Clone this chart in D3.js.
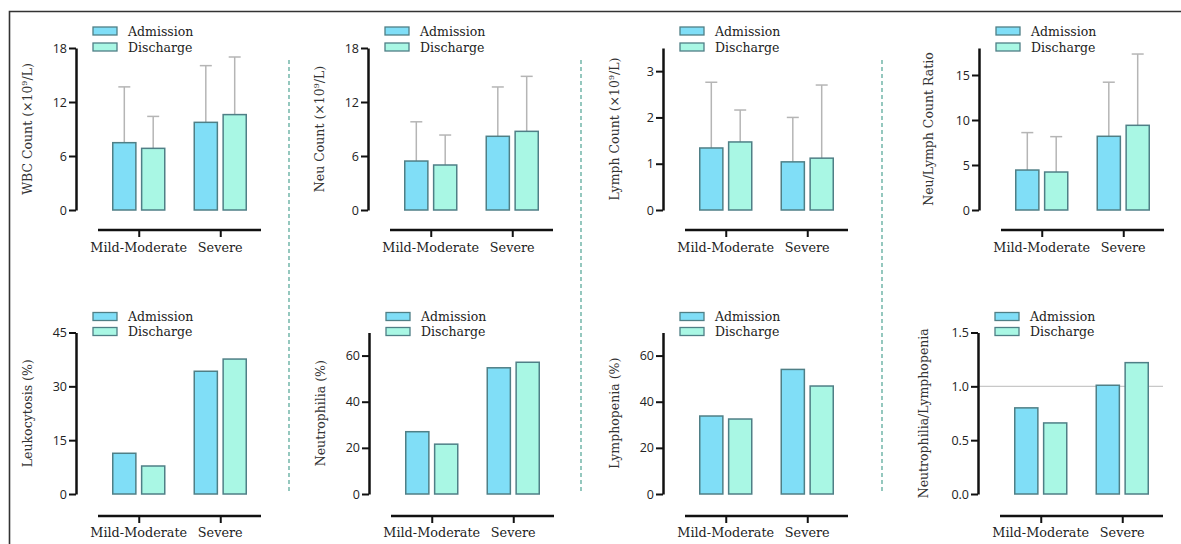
<!DOCTYPE html>
<html><head><meta charset="utf-8">
<script src="https://cdn.jsdelivr.net/npm/d3@7"></script>
<style>html,body{margin:0;padding:0;background:#fff;}svg{display:block;}</style>
</head><body>
<svg id="c" width="1181" height="544"></svg>
<script>
// ---- data ----
const categories = ["Mild-Moderate", "Severe"];
const seriesNames = ["Admission", "Discharge"];

const wbcAdm = [7.48, 9.74], wbcDis = [6.85, 10.6];
const wbcAdmSD = [6.2, 6.3], wbcDisSD = [3.55, 6.4];
const neuAdm = [5.44, 8.19], neuDis = [5.0, 8.74];
const neuAdmSD = [4.36, 5.48], neuDisSD = [3.33, 6.11];
const lymAdm = [1.34, 1.04], lymDis = [1.47, 1.12];
const lymAdmSD = [1.42, 0.96], lymDisSD = [0.69, 1.58];
const nlrAdm = [4.44, 8.19], nlrDis = [4.22, 9.41];
const nlrAdmSD = [4.16, 6.01], nlrDisSD = [3.93, 7.92];

const leukoAdm = [11.35, 34.2], leukoDis = [7.8, 37.6];
const neutroAdm = [27.0, 54.7], neutroDis = [21.6, 57.1];
const lymphoAdm = [33.8, 54.0], lymphoDis = [32.5, 46.8];
const ratioAdm = [0.80, 1.01], ratioDis = [0.66, 1.22];

const ticksWbc = [0, 6, 12, 18], ticksNeu = [0, 6, 12, 18], ticksLym = [0, 1, 2, 3], ticksNlr = [0, 5, 10, 15];
const ticksLeuko = [0, 15, 30, 45], ticksNeutro = [0, 20, 40, 60], ticksLympho = [0, 20, 40, 60], ticksRatio = [0, 0.5, 1.0, 1.5];

// ---- panel definitions ----
const panels = [
  {row:0, ax:76,  tOff:44, title:["WBC Count (×10","9","/L)"], max:18, ticks:ticksWbc, fmt:d3.format("d"), adm:wbcAdm, dis:wbcDis, admSD:wbcAdmSD, disSD:wbcDisSD},
  {row:0, ax:368, tOff:44, title:["Neu Count (×10","9","/L)"], max:18, ticks:ticksNeu, fmt:d3.format("d"), adm:neuAdm, dis:neuDis, admSD:neuAdmSD, disSD:neuDisSD},
  {row:0, ax:663, tOff:44, title:["Lymph Count (×10","9","/L)"], max:3.5, ticks:ticksLym, fmt:d3.format("d"), adm:lymAdm, dis:lymDis, admSD:lymAdmSD, disSD:lymDisSD},
  {row:0, ax:979, tOff:46, title:["Neu/Lymph Count Ratio"], max:18, ticks:ticksNlr, fmt:d3.format("d"), adm:nlrAdm, dis:nlrDis, admSD:nlrAdmSD, disSD:nlrDisSD},
  {row:1, ax:76,  tOff:44, title:["Leukocytosis (%)"], max:45, ticks:ticksLeuko, fmt:d3.format("d"), adm:leukoAdm, dis:leukoDis},
  {row:1, ax:369, tOff:44, title:["Neutrophilia (%)"], max:70, ticks:ticksNeutro, fmt:d3.format("d"), adm:neutroAdm, dis:neutroDis},
  {row:1, ax:663, tOff:44, title:["Lymphopenia (%)"], max:70, ticks:ticksLympho, fmt:d3.format("d"), adm:lymphoAdm, dis:lymphoDis},
  {row:1, ax:978, tOff:50, title:["Neutrophilia/Lymphopenia"], max:1.5, ticks:ticksRatio, fmt:d3.format(".1f"), adm:ratioAdm, dis:ratioDis, refLine:1.0}
];

const rows = [
  {y0:210, y1:48, xAxisY:230, catY:252, legY:[31,47]},
  {y0:494, y1:332.5, xAxisY:516, catY:537, legY:[316.5,331.5]}
];

const colAdm = "#80def7", colDis = "#a9f7e4", strokeBar = "#4f7f86";
const serif = "'DejaVu Serif', serif";
const sans = "'Open Sans', sans-serif";

const svg = d3.select("#c");

// frame
svg.append("path").attr("d","M9.5,544 L9.5,11.5 L1181,11.5").attr("fill","none").attr("stroke","#333").attr("stroke-width",1.6);

// dashed separators
[289, 581, 882].forEach(x => {
  svg.append("line").attr("x1",x).attr("x2",x).attr("y1",60).attr("y2",493)
    .attr("stroke","#4fa393").attr("stroke-width",1.2).attr("stroke-dasharray","4,3");
});

panels.forEach(p => {
  const r = rows[p.row];
  const g = svg.append("g");
  const y = d3.scaleLinear().domain([0, p.max]).range([r.y0, r.y1]);
  const x = d3.scalePoint().domain(categories).range([p.ax + 22, p.ax + 185]).padding(0.5);
  const xs = d3.scaleBand().domain(seriesNames).range([-26, 26]).paddingInner(0.2);

  // reference line
  if (p.refLine !== undefined) {
    g.append("line").attr("x1", p.ax+1).attr("x2", p.ax+185)
      .attr("y1", y(p.refLine)).attr("y2", y(p.refLine))
      .attr("stroke","#c8c8c8").attr("stroke-width",1.2);
  }

  const series = [
    {name:"Admission", vals:p.adm, sd:p.admSD, fill:colAdm},
    {name:"Discharge", vals:p.dis, sd:p.disSD, fill:colDis}
  ];

  series.forEach(s => {
    // error bars (upper only)
    if (s.sd) {
      categories.forEach((c,i) => {
        const cx = x(c) + xs(s.name) + xs.bandwidth()/2;
        g.append("line").attr("x1",cx).attr("x2",cx).attr("y1",y(s.vals[i])).attr("y2",y(s.vals[i]+s.sd[i]))
          .attr("stroke","#b5b5b5").attr("stroke-width",1.5);
        g.append("line").attr("x1",cx-6).attr("x2",cx+6).attr("y1",y(s.vals[i]+s.sd[i])).attr("y2",y(s.vals[i]+s.sd[i]))
          .attr("stroke","#b5b5b5").attr("stroke-width",1.5);
      });
    }
    g.selectAll(null).data(categories).enter().append("rect")
      .attr("x", (c) => x(c) + xs(s.name))
      .attr("width", xs.bandwidth())
      .attr("y", (c,i) => y(s.vals[i]))
      .attr("height", (c,i) => y(0) - y(s.vals[i]))
      .attr("fill", s.fill).attr("stroke", strokeBar).attr("stroke-width", 1.5);
  });

  // y axis
  const yAxis = d3.axisLeft(y).tickValues(p.ticks).tickFormat(p.fmt).tickSize(7).tickSizeOuter(0).tickPadding(2);
  const ya = g.append("g").attr("transform",`translate(${p.ax},0)`).call(yAxis);
  ya.select(".domain").attr("stroke","#111").attr("stroke-width",2.5);
  ya.selectAll(".tick line").attr("stroke","#111").attr("stroke-width",2);
  ya.selectAll(".tick text").attr("font-family",sans).attr("font-size",12.5).attr("fill","#222");

  // x axis (detached)
  const xAxis = d3.axisBottom(x).tickSize(7).tickSizeOuter(0).tickFormat("");
  const xa = g.append("g").attr("transform",`translate(0,${r.xAxisY})`).call(xAxis);
  xa.select(".domain").attr("d", `M${p.ax+22},0H${p.ax+185}`).attr("stroke","#111").attr("stroke-width",2.5);
  xa.selectAll(".tick line").attr("stroke","#111").attr("stroke-width",2);
  g.selectAll(null).data(categories).enter().append("text")
    .attr("x", c => x(c)).attr("y", r.catY).attr("text-anchor","middle")
    .attr("font-family",serif).attr("font-size",12.8).attr("fill","#222").text(c => c);

  // axis title
  const tx = p.ax - p.tOff, ty = (r.y0 + r.y1)/2;
  const t = g.append("text").attr("transform",`translate(${tx},${ty}) rotate(-90)`)
    .attr("text-anchor","middle").attr("font-family",serif).attr("font-size",12.5).attr("fill","#333");
  t.append("tspan").text(p.title[0]);
  if (p.title.length > 1) {
    t.append("tspan").attr("font-size",8).attr("dy",-5).text(p.title[1]);
    t.append("tspan").attr("dy",5).text(p.title[2]);
  }

  // legend
  seriesNames.forEach((n,i) => {
    const ly = r.legY[i];
    g.append("rect").attr("x", p.ax+17).attr("y", ly-4).attr("width",24).attr("height",8)
      .attr("fill", i===0?colAdm:colDis).attr("stroke",strokeBar).attr("stroke-width",1.3);
    g.append("text").attr("x", p.ax+52).attr("y", ly+4.5).attr("font-family",serif).attr("font-size",12.5)
      .attr("fill","#222").text(n);
  });
});
</script>
</body></html>
